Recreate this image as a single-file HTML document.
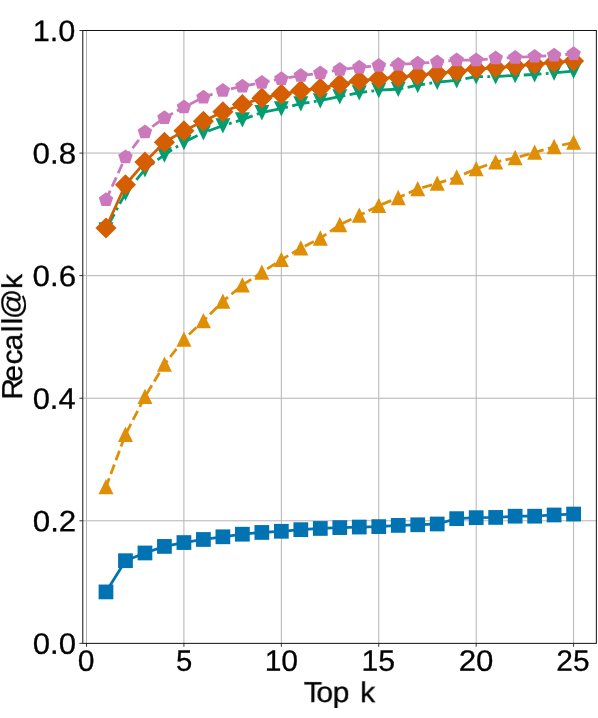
<!DOCTYPE html>
<html lang="en"><head><meta charset="utf-8"><title>Recall@k</title>
<style>html,body{margin:0;padding:0;background:#fff}svg{display:block}</style></head>
<body>
<svg width="598" height="718" viewBox="0 0 598 718">
<rect width="598" height="718" fill="#fff"/>
<g stroke="#b4b4b4" stroke-width="1.0"><line x1="86.5" y1="30.5" x2="86.5" y2="643.36"/><line x1="183.92" y1="30.5" x2="183.92" y2="643.36"/><line x1="281.34" y1="30.5" x2="281.34" y2="643.36"/><line x1="378.76" y1="30.5" x2="378.76" y2="643.36"/><line x1="476.18" y1="30.5" x2="476.18" y2="643.36"/><line x1="573.6" y1="30.5" x2="573.6" y2="643.36"/><line x1="82.8" y1="520.79" x2="596.35" y2="520.79"/><line x1="82.8" y1="398.22" x2="596.35" y2="398.22"/><line x1="82.8" y1="275.64" x2="596.35" y2="275.64"/><line x1="82.8" y1="153.07" x2="596.35" y2="153.07"/></g>
<clipPath id="c"><rect x="82.8" y="30.5" width="513.55" height="612.86"/></clipPath>
<g clip-path="url(#c)">
<polyline points="105.98,591.9 125.47,560.7 144.95,552.98 164.44,546.42 183.92,542.55 203.4,539.49 222.89,536.79 242.37,534.22 261.86,532.44 281.34,531.28 300.82,529.68 320.31,528.46 339.79,527.6 359.28,527.05 378.76,526.62 398.24,525.39 417.73,524.78 437.21,523.98 456.7,518.65 476.18,517.67 495.66,517.42 515.15,516.2 534.63,516.2 554.12,514.97 573.6,514.05" fill="none" stroke="#0173B2" stroke-width="2.78" stroke-linejoin="round"/>
<g fill="#0173B2"><rect x="98.61" y="584.53" width="14.75" height="14.75"/><rect x="118.09" y="553.32" width="14.75" height="14.75"/><rect x="137.58" y="545.6" width="14.75" height="14.75"/><rect x="157.06" y="539.04" width="14.75" height="14.75"/><rect x="176.55" y="535.18" width="14.75" height="14.75"/><rect x="196.03" y="532.11" width="14.75" height="14.75"/><rect x="215.51" y="529.42" width="14.75" height="14.75"/><rect x="235" y="526.84" width="14.75" height="14.75"/><rect x="254.48" y="525.07" width="14.75" height="14.75"/><rect x="273.97" y="523.9" width="14.75" height="14.75"/><rect x="293.45" y="522.31" width="14.75" height="14.75"/><rect x="312.93" y="521.08" width="14.75" height="14.75"/><rect x="332.42" y="520.22" width="14.75" height="14.75"/><rect x="351.9" y="519.67" width="14.75" height="14.75"/><rect x="371.39" y="519.24" width="14.75" height="14.75"/><rect x="390.87" y="518.02" width="14.75" height="14.75"/><rect x="410.35" y="517.4" width="14.75" height="14.75"/><rect x="429.84" y="516.61" width="14.75" height="14.75"/><rect x="449.32" y="511.27" width="14.75" height="14.75"/><rect x="468.81" y="510.29" width="14.75" height="14.75"/><rect x="488.29" y="510.05" width="14.75" height="14.75"/><rect x="507.77" y="508.82" width="14.75" height="14.75"/><rect x="527.26" y="508.82" width="14.75" height="14.75"/><rect x="546.74" y="507.6" width="14.75" height="14.75"/><rect x="566.23" y="506.68" width="14.75" height="14.75"/></g>

<polyline points="105.98,486.98 125.47,434.51 144.95,396.69 164.44,364.38 183.92,339.37 203.4,320.86 222.89,301.43 242.37,285.12 261.86,272.43 281.34,259.68 300.82,248.22 320.31,238.29 339.79,224.8 359.28,215.43 378.76,205.62 398.24,197.77 417.73,188.88 437.21,183.37 456.7,177.3 476.18,168.84 495.66,162.09 515.15,157.8 534.63,152.41 554.12,146.77 573.6,142.48" fill="none" stroke="#DE8F05" stroke-width="2.78" stroke-dasharray="10.22 4.42" stroke-dashoffset="0.8" stroke-linejoin="round"/>
<g fill="#DE8F05"><path d="M105.98 479.03L98.48 494.36L113.48 494.36Z"/><path d="M125.47 426.56L117.97 441.89L132.97 441.89Z"/><path d="M144.95 388.74L137.45 404.07L152.45 404.07Z"/><path d="M164.44 356.43L156.94 371.76L171.94 371.76Z"/><path d="M183.92 331.42L176.42 346.75L191.42 346.75Z"/><path d="M203.4 312.91L195.9 328.24L210.9 328.24Z"/><path d="M222.89 293.48L215.39 308.8L230.39 308.8Z"/><path d="M242.37 277.17L234.87 292.5L249.87 292.5Z"/><path d="M261.86 264.48L254.36 279.81L269.36 279.81Z"/><path d="M281.34 251.73L273.84 267.06L288.84 267.06Z"/><path d="M300.82 240.27L293.32 255.6L308.32 255.6Z"/><path d="M320.31 230.34L312.81 245.67L327.81 245.67Z"/><path d="M339.79 216.85L332.29 232.18L347.29 232.18Z"/><path d="M359.28 207.48L351.78 222.8L366.78 222.8Z"/><path d="M378.76 197.67L371.26 212.99L386.26 212.99Z"/><path d="M398.24 189.82L390.74 205.15L405.74 205.15Z"/><path d="M417.73 180.93L410.23 196.26L425.23 196.26Z"/><path d="M437.21 175.42L429.71 190.74L444.71 190.74Z"/><path d="M456.7 169.35L449.2 184.67L464.2 184.67Z"/><path d="M476.18 160.89L468.68 176.21L483.68 176.21Z"/><path d="M495.66 154.14L488.16 169.47L503.16 169.47Z"/><path d="M515.15 149.85L507.65 165.18L522.65 165.18Z"/><path d="M534.63 144.46L527.13 159.78L542.13 159.78Z"/><path d="M554.12 138.82L546.62 154.14L561.62 154.14Z"/><path d="M573.6 134.53L566.1 149.85L581.1 149.85Z"/></g>

<polyline points="105.98,229.65 125.47,193.05 144.95,169.45 164.44,154.74 183.92,142.3 203.4,132.67 222.89,125.62 242.37,119.61 261.86,112.44 281.34,108.64 300.82,103.61 320.31,100.61 339.79,96.63 359.28,92.58 378.76,90.19 398.24,89.15 417.73,85.22 437.21,82.1 456.7,80.44 476.18,76.58 495.66,76.58 515.15,75.42 534.63,74.5 554.12,72.78 573.6,71.06" fill="none" stroke="#029E73" stroke-width="2.78" stroke-dasharray="17.68 4.42 2.76 4.42" stroke-dashoffset="0" stroke-linejoin="round"/>
<g fill="#029E73"><path d="M105.98 237.6L98.48 222.27L113.48 222.27Z"/><path d="M125.47 201L117.97 185.68L132.97 185.68Z"/><path d="M144.95 177.4L137.45 162.08L152.45 162.08Z"/><path d="M164.44 162.69L156.94 147.36L171.94 147.36Z"/><path d="M183.92 150.25L176.42 134.92L191.42 134.92Z"/><path d="M203.4 140.62L195.9 125.3L210.9 125.3Z"/><path d="M222.89 133.57L215.39 118.25L230.39 118.25Z"/><path d="M242.37 127.56L234.87 112.24L249.87 112.24Z"/><path d="M261.86 120.39L254.36 105.07L269.36 105.07Z"/><path d="M281.34 116.59L273.84 101.27L288.84 101.27Z"/><path d="M300.82 111.56L293.32 96.24L308.32 96.24Z"/><path d="M320.31 108.56L312.81 93.24L327.81 93.24Z"/><path d="M339.79 104.58L332.29 89.25L347.29 89.25Z"/><path d="M359.28 100.53L351.78 85.21L366.78 85.21Z"/><path d="M378.76 98.14L371.26 82.82L386.26 82.82Z"/><path d="M398.24 97.1L390.74 81.77L405.74 81.77Z"/><path d="M417.73 93.17L410.23 77.85L425.23 77.85Z"/><path d="M437.21 90.05L429.71 74.72L444.71 74.72Z"/><path d="M456.7 88.39L449.2 73.07L464.2 73.07Z"/><path d="M476.18 84.53L468.68 69.21L483.68 69.21Z"/><path d="M495.66 84.53L488.16 69.21L503.16 69.21Z"/><path d="M515.15 83.37L507.65 68.04L522.65 68.04Z"/><path d="M534.63 82.45L527.13 67.12L542.13 67.12Z"/><path d="M554.12 80.73L546.62 65.41L561.62 65.41Z"/><path d="M573.6 79.01L566.1 63.69L581.1 63.69Z"/></g>

<polyline points="105.98,227.93 125.47,184.78 144.95,162.09 164.44,142.3 183.92,130.83 203.4,121.21 222.89,111.83 242.37,104.47 261.86,98.16 281.34,94.24 300.82,90.62 320.31,88.23 339.79,84.24 359.28,80.81 378.76,78.73 398.24,77.19 417.73,75.17 437.21,73.21 456.7,71.49 476.18,68.92 495.66,67.82 515.15,66.1 534.63,64.2 554.12,62.42 573.6,61.07" fill="none" stroke="#D55E00" stroke-width="2.78" stroke-linejoin="round"/>
<g fill="#D55E00"><path d="M105.98 217.38L116.53 227.93L105.98 238.48L95.43 227.93Z"/><path d="M125.47 174.23L136.02 184.78L125.47 195.33L114.92 184.78Z"/><path d="M144.95 151.54L155.5 162.09L144.95 172.64L134.4 162.09Z"/><path d="M164.44 131.75L174.99 142.3L164.44 152.85L153.89 142.3Z"/><path d="M183.92 120.28L194.47 130.83L183.92 141.38L173.37 130.83Z"/><path d="M203.4 110.66L213.95 121.21L203.4 131.76L192.85 121.21Z"/><path d="M222.89 101.28L233.44 111.83L222.89 122.38L212.34 111.83Z"/><path d="M242.37 93.92L252.92 104.47L242.37 115.02L231.82 104.47Z"/><path d="M261.86 87.61L272.41 98.16L261.86 108.71L251.31 98.16Z"/><path d="M281.34 83.69L291.89 94.24L281.34 104.79L270.79 94.24Z"/><path d="M300.82 80.07L311.37 90.62L300.82 101.17L290.27 90.62Z"/><path d="M320.31 77.68L330.86 88.23L320.31 98.78L309.76 88.23Z"/><path d="M339.79 73.69L350.34 84.24L339.79 94.79L329.24 84.24Z"/><path d="M359.28 70.26L369.83 80.81L359.28 91.36L348.73 80.81Z"/><path d="M378.76 68.18L389.31 78.73L378.76 89.28L368.21 78.73Z"/><path d="M398.24 66.64L408.79 77.19L398.24 87.74L387.69 77.19Z"/><path d="M417.73 64.62L428.28 75.17L417.73 85.72L407.18 75.17Z"/><path d="M437.21 62.66L447.76 73.21L437.21 83.76L426.66 73.21Z"/><path d="M456.7 60.94L467.25 71.49L456.7 82.04L446.15 71.49Z"/><path d="M476.18 58.37L486.73 68.92L476.18 79.47L465.63 68.92Z"/><path d="M495.66 57.27L506.21 67.82L495.66 78.37L485.11 67.82Z"/><path d="M515.15 55.55L525.7 66.1L515.15 76.65L504.6 66.1Z"/><path d="M534.63 53.65L545.18 64.2L534.63 74.75L524.08 64.2Z"/><path d="M554.12 51.87L564.67 62.42L554.12 72.97L543.57 62.42Z"/><path d="M573.6 50.52L584.15 61.07L573.6 71.62L563.05 61.07Z"/></g>

<polyline points="105.98,199.92 125.47,157.19 144.95,132.06 164.44,117.78 183.92,107.17 203.4,97.3 222.89,90.68 242.37,86.27 261.86,82.71 281.34,78.73 300.82,75.66 320.31,73.21 339.79,69.72 359.28,67.33 378.76,65.67 398.24,64.63 417.73,63.28 437.21,62.18 456.7,60.09 476.18,60.21 495.66,58.19 515.15,57.58 534.63,56.48 554.12,55.43 573.6,53.78" fill="none" stroke="#CC78BC" stroke-width="2.78" stroke-dasharray="10.22 4.42" stroke-dashoffset="0" stroke-linejoin="round"/>
<g fill="#CC78BC"><path d="M105.98 192.32L113.21 197.57L110.45 206.07L101.52 206.07L98.76 197.57Z"/><path d="M125.47 149.59L132.7 154.84L129.94 163.34L121 163.34L118.24 154.84Z"/><path d="M144.95 124.46L152.18 129.71L149.42 138.21L140.48 138.21L137.72 129.71Z"/><path d="M164.44 110.18L171.66 115.43L168.9 123.92L159.97 123.92L157.21 115.43Z"/><path d="M183.92 99.57L191.15 104.82L188.39 113.32L179.45 113.32L176.69 104.82Z"/><path d="M203.4 89.7L210.63 94.95L207.87 103.45L198.94 103.45L196.18 94.95Z"/><path d="M222.89 83.08L230.12 88.33L227.36 96.83L218.42 96.83L215.66 88.33Z"/><path d="M242.37 78.67L249.6 83.92L246.84 92.42L237.9 92.42L235.14 83.92Z"/><path d="M261.86 75.11L269.08 80.36L266.32 88.86L257.39 88.86L254.63 80.36Z"/><path d="M281.34 71.13L288.57 76.38L285.81 84.88L276.87 84.88L274.11 76.38Z"/><path d="M300.82 68.06L308.05 73.31L305.29 81.81L296.36 81.81L293.6 73.31Z"/><path d="M320.31 65.61L327.54 70.86L324.78 79.36L315.84 79.36L313.08 70.86Z"/><path d="M339.79 62.12L347.02 67.37L344.26 75.86L335.32 75.86L332.56 67.37Z"/><path d="M359.28 59.73L366.5 64.98L363.74 73.47L354.81 73.47L352.05 64.98Z"/><path d="M378.76 58.07L385.99 63.32L383.23 71.82L374.29 71.82L371.53 63.32Z"/><path d="M398.24 57.03L405.47 62.28L402.71 70.78L393.78 70.78L391.02 62.28Z"/><path d="M417.73 55.68L424.96 60.93L422.2 69.43L413.26 69.43L410.5 60.93Z"/><path d="M437.21 54.58L444.44 59.83L441.68 68.32L432.74 68.32L429.98 59.83Z"/><path d="M456.7 52.49L463.92 57.74L461.16 66.24L452.23 66.24L449.47 57.74Z"/><path d="M476.18 52.61L483.41 57.87L480.65 66.36L471.71 66.36L468.95 57.87Z"/><path d="M495.66 50.59L502.89 55.84L500.13 64.34L491.2 64.34L488.44 55.84Z"/><path d="M515.15 49.98L522.38 55.23L519.62 63.73L510.68 63.73L507.92 55.23Z"/><path d="M534.63 48.88L541.86 54.13L539.1 62.62L530.16 62.62L527.4 54.13Z"/><path d="M554.12 47.83L561.34 53.08L558.58 61.58L549.65 61.58L546.89 53.08Z"/><path d="M573.6 46.18L580.83 51.43L578.07 59.93L569.13 59.93L566.37 51.43Z"/></g>

</g>
<g stroke="#000" stroke-width="0.8"><line x1="86.5" y1="643.36" x2="86.5" y2="646.76"/><line x1="183.92" y1="643.36" x2="183.92" y2="646.76"/><line x1="281.34" y1="643.36" x2="281.34" y2="646.76"/><line x1="378.76" y1="643.36" x2="378.76" y2="646.76"/><line x1="476.18" y1="643.36" x2="476.18" y2="646.76"/><line x1="573.6" y1="643.36" x2="573.6" y2="646.76"/><line x1="82.8" y1="643.36" x2="79.4" y2="643.36"/><line x1="82.8" y1="520.79" x2="79.4" y2="520.79"/><line x1="82.8" y1="398.22" x2="79.4" y2="398.22"/><line x1="82.8" y1="275.64" x2="79.4" y2="275.64"/><line x1="82.8" y1="153.07" x2="79.4" y2="153.07"/><line x1="82.8" y1="30.5" x2="79.4" y2="30.5"/></g>
<rect x="82.8" y="30.5" width="513.55" height="612.86" fill="none" stroke="#111" stroke-width="1.0"/>
<g font-family="'Liberation Sans', sans-serif" font-size="29.5" fill="#000" stroke="#000" stroke-width="0.3" opacity="0.999" text-rendering="geometricPrecision"><text x="54.36" y="653.86" transform="rotate(0.2 54.36 653.86)" text-anchor="middle" textLength="43.19" lengthAdjust="spacingAndGlyphs">0.0</text>
<text x="54.54" y="531.29" transform="rotate(0.2 54.54 531.29)" text-anchor="middle" textLength="43.36" lengthAdjust="spacingAndGlyphs">0.2</text>
<text x="54.15" y="408.72" transform="rotate(0.2 54.15 408.72)" text-anchor="middle" textLength="42.84" lengthAdjust="spacingAndGlyphs">0.4</text>
<text x="54.31" y="286.14" transform="rotate(0.2 54.31 286.14)" text-anchor="middle" textLength="43.42" lengthAdjust="spacingAndGlyphs">0.6</text>
<text x="54.34" y="163.57" transform="rotate(0.2 54.34 163.57)" text-anchor="middle" textLength="43.41" lengthAdjust="spacingAndGlyphs">0.8</text>
<text x="54.08" y="41" transform="rotate(0.2 54.08 41)" text-anchor="middle" textLength="42.53" lengthAdjust="spacingAndGlyphs">1.0</text>
<text x="86.16" y="670.85" transform="rotate(0.2 86.16 670.85)" text-anchor="middle" textLength="16.7" lengthAdjust="spacingAndGlyphs">0</text>
<text x="184.22" y="670.85" transform="rotate(0.2 184.22 670.85)" text-anchor="middle" textLength="16.24" lengthAdjust="spacingAndGlyphs">5</text>
<text x="281.36" y="670.85" transform="rotate(0.2 281.36 670.85)" text-anchor="middle" textLength="33.42" lengthAdjust="spacingAndGlyphs">10</text>
<text x="378.17" y="670.85" transform="rotate(0.2 378.17 670.85)" text-anchor="middle" textLength="33.52" lengthAdjust="spacingAndGlyphs">15</text>
<text x="476.07" y="670.85" transform="rotate(0.2 476.07 670.85)" text-anchor="middle" textLength="34.64" lengthAdjust="spacingAndGlyphs">20</text>
<text x="572.9" y="670.85" transform="rotate(0.2 572.9 670.85)" text-anchor="middle" textLength="33.11" lengthAdjust="spacingAndGlyphs">25</text>
<text transform="translate(304.2 701.9) rotate(0.2) scale(1.05 1)" font-size="28.7" x="-0.57 11.69 27.11 43.91 53.18" y="0">Top k</text>
<text transform="translate(22.0 400.9) rotate(-90) scale(1.045 1)" font-size="28.7" x="1.24 18.47 34.82 48.3 65.73 73.12 78.31 107.09" y="0">Recall@k</text></g>
</svg>
</body></html>
